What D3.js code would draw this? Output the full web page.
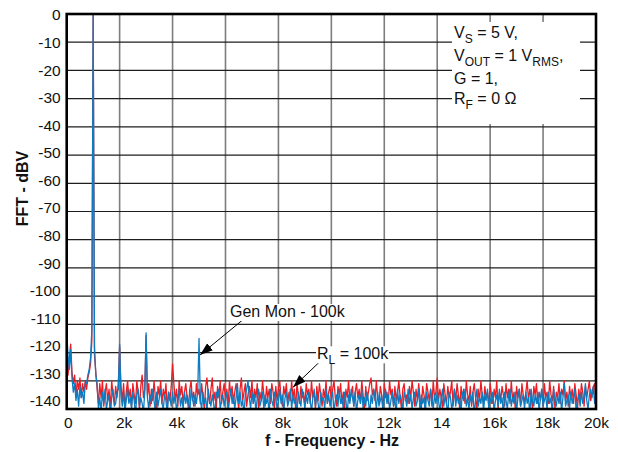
<!DOCTYPE html>
<html><head><meta charset="utf-8">
<script src="https://cdn.jsdelivr.net/npm/d3@7"></script>
<style>
body{margin:0;background:#fff}
svg{display:block;font-family:"Liberation Sans",Arial,Helvetica,sans-serif}
</style>
</head><body>
<svg id="chart" width="618" height="452"></svg>
<script>
// ---- data ----
const xTickValues = [0, 2000, 4000, 6000, 8000, 10000, 12000, 14000, 16000, 18000, 20000];
const xTickLabels = ["0", "2k", "4k", "6k", "8k", "10k", "12k", "14", "16k", "18k", "20k"];
const yTickValues = [0, -10, -20, -30, -40, -50, -60, -70, -80, -90, -100, -110, -120, -130, -140];
const freqStepHz = 50; // spectrum bins: 0 Hz .. 20 kHz
// Gen Mon - 100k (blue), dBV per 50 Hz bin
const genMon = [
-112,-121,-126,-119,-129,-134,-131,-137,-133,-139,-132,-136,-134,-138,-131,-131,-128,-126,-122,-112,
0,-118,-128,-131,-140,-136,-141,-134,-138,-133,-140,-137,-135,-142,-136,-133,-139,-138,-134,-133,
-117,-135,-139,-134,-141,-137,-133,-138,-136,-140,-134,-137,-142,-135,-133,-139,-136,-138,-141,-134,
-113,-136,-140,-135,-138,-133,-137,-141,-134,-139,-136,-133,-138,-140,-135,-137,-142,-134,-136,-139,
-134,-138,-135,-141,-137,-133,-139,-136,-140,-134,-138,-135,-137,-142,-133,-136,-139,-135,-138,-134,
-115,-137,-140,-134,-138,-136,-141,-133,-137,-139,-135,-138,-142,-134,-136,-133,-140,-137,-135,-139,
-136,-134,-141,-137,-133,-138,-135,-140,-136,-131,-138,-134,-139,-137,-142,-135,-133,-130,-136,-140,
-134,-138,-135,-141,-136,-133,-139,-137,-134,-140,-135,-138,-136,-142,-133,-137,-139,-134,-136,-140,
-137,-133,-138,-135,-141,-136,-134,-139,-137,-133,-140,-135,-138,-136,-142,-134,-137,-139,-133,-136,
-140,-135,-138,-134,-137,-141,-136,-133,-139,-135,-138,-142,-134,-137,-136,-140,-133,-138,-135,-139,
-136,-134,-141,-137,-135,-139,-133,-138,-136,-140,-134,-137,-142,-135,-138,-133,-136,-139,-134,-141,
-137,-135,-138,-133,-140,-136,-139,-134,-137,-142,-135,-138,-133,-136,-140,-134,-139,-137,-135,-141,
-136,-133,-138,-135,-140,-137,-134,-139,-136,-142,-133,-138,-135,-137,-141,-134,-136,-139,-133,-138,
-135,-140,-136,-134,-139,-137,-133,-141,-135,-138,-136,-142,-134,-137,-139,-133,-136,-140,-135,-138,
-134,-137,-141,-136,-133,-139,-135,-138,-142,-134,-136,-140,-137,-133,-139,-135,-138,-136,-141,-134,
-137,-133,-139,-136,-140,-135,-138,-134,-142,-137,-133,-139,-136,-138,-134,-141,-135,-137,-133,-140,
-136,-138,-134,-141,-137,-135,-139,-133,-138,-136,-142,-134,-137,-140,-135,-133,-139,-136,-138,-134,
-141,-136,-133,-139,-137,-135,-140,-134,-138,-136,-142,-133,-137,-139,-135,-138,-134,-141,-136,-133,
-139,-137,-135,-140,-134,-138,-136,-142,-133,-137,-139,-135,-138,-134,-141,-136,-131,-139,-137,-135,
-140,-134,-138,-136,-133,-141,-137,-135,-139,-134,-138,-136,-131,-137,-140,-135,-133,-136,-132,-138,
-134];
// R_L = 100k (red), dBV per 50 Hz bin
const rl100k = [
-124,-128,-122,-117,-127,-131,-128,-135,-130,-133,-129,-136,-131,-134,-130,-133,-129,-127,-124,-116,
0,-121,-127,-133,-138,-131,-136,-130,-139,-134,-131,-137,-133,-140,-130,-135,-138,-132,-136,-131,
-118,-132,-137,-131,-140,-134,-130,-136,-133,-139,-131,-135,-138,-130,-134,-140,-132,-128,-136,-133,
-114,-135,-131,-139,-133,-137,-130,-136,-141,-132,-135,-130,-138,-133,-136,-131,-140,-134,-137,-132,
-124,-131,-137,-133,-139,-130,-135,-132,-138,-134,-131,-136,-140,-133,-130,-137,-134,-139,-131,-135,
-133,-138,-131,-136,-140,-132,-129,-135,-138,-133,-129,-137,-134,-140,-132,-136,-130,-138,-134,-131,
-137,-133,-139,-130,-135,-132,-138,-134,-131,-136,-140,-133,-129,-137,-134,-131,-139,-135,-132,-136,
-130,-138,-133,-136,-131,-140,-134,-137,-130,-135,-139,-132,-136,-133,-138,-131,-134,-140,-132,-137,
-133,-130,-136,-139,-132,-135,-131,-138,-134,-137,-130,-136,-133,-140,-131,-135,-138,-132,-136,-134,
-139,-131,-135,-133,-138,-130,-136,-134,-140,-132,-137,-131,-135,-139,-133,-136,-130,-138,-134,-132,
-137,-133,-130,-136,-139,-132,-135,-131,-138,-134,-140,-133,-136,-130,-137,-135,-132,-139,-134,-131,
-136,-133,-138,-130,-135,-140,-132,-137,-134,-131,-129,-135,-133,-137,-130,-136,-138,-132,-135,-140,
-131,-136,-134,-138,-130,-135,-133,-139,-132,-137,-134,-130,-136,-140,-133,-131,-137,-135,-138,-132,
-136,-130,-134,-139,-133,-137,-131,-136,-140,-132,-135,-138,-131,-134,-137,-133,-139,-130,-136,-134,
-129,-137,-133,-136,-140,-131,-135,-138,-132,-136,-134,-130,-139,-133,-137,-131,-135,-140,-132,-136,
-133,-138,-130,-135,-137,-132,-139,-134,-131,-136,-140,-133,-137,-130,-135,-138,-132,-136,-134,-139,
-131,-135,-138,-133,-136,-130,-140,-134,-137,-132,-135,-139,-131,-136,-133,-138,-130,-137,-134,-140,
-132,-136,-133,-139,-131,-135,-138,-134,-130,-137,-133,-136,-140,-132,-135,-131,-138,-134,-137,-133,
-139,-131,-136,-134,-138,-130,-135,-137,-132,-140,-134,-136,-131,-138,-133,-135,-130,-137,-134,-139,
-132,-136,-133,-138,-131,-135,-140,-133,-137,-131,-134,-139,-132,-136,-133,-130,-137,-134,-132,-131,
-140];
const annotBox = [["V","S"," = 5 V,"],["V","OUT"," = 1 V","RMS",","],["G = 1,"],["R","F"," = 0 Ω"]];

// ---- chart ----
const svg = d3.select("#chart");
const L = 66.7, R = 596, T = 14, B = 409;
const x = d3.scaleLinear().domain([0, 20000]).range([L, R]);
const y = d3.scaleLinear().domain([-140, 0]).range([B, T]);
const yLab = d3.scaleLinear().domain([-130, 0]).range([377, 15]);

svg.append("rect").attr("width", 618).attr("height", 452).attr("fill", "#fff");

// grid
svg.append("g").selectAll("line").data(xTickValues.slice(1, -1)).join("line")
  .attr("x1", d => x(d)).attr("x2", d => x(d)).attr("y1", T).attr("y2", B)
  .attr("stroke", "#7d7d7d").attr("stroke-width", 1.6);
svg.append("g").selectAll("line").data(yTickValues.slice(1, -1)).join("line")
  .attr("x1", L).attr("x2", R).attr("y1", d => y(d)).attr("y2", d => y(d))
  .attr("stroke", "#1e1e1e").attr("stroke-width", 1.2);

// annotation box (white backdrop over grid)
svg.append("rect").attr("x", 452).attr("y", 22).attr("width", 128).attr("height", 102).attr("fill", "#fff");
const boxBase = [38, 60.5, 84, 103.5];
annotBox.forEach((parts, i) => {
  const t = svg.append("text").attr("x", 454).attr("y", boxBase[i]).attr("font-size", 16).attr("fill", "#111");
  if (parts.length === 1) { t.text(parts[0]); return; }
  t.append("tspan").text(parts[0]);
  t.append("tspan").attr("dy", 5).attr("font-size", 12).text(parts[1]);
  t.append("tspan").attr("dy", -5).text(parts[2]);
  if (parts[3]) {
    t.append("tspan").attr("dy", 5).attr("font-size", 12).text(parts[3]);
    t.append("tspan").attr("dy", -5).text(parts[4] || "");
  }
});

// data lines
svg.append("clipPath").attr("id", "clip").append("rect")
  .attr("x", L).attr("y", T).attr("width", R - L).attr("height", B - T);
const line = d3.line().x((d, i) => x(i * freqStepHz)).y(d => y(d));
const plot = svg.append("g").attr("clip-path", "url(#clip)");
plot.append("path").datum(rl100k).attr("d", line).attr("fill", "none")
  .attr("stroke", "#ec1c24").attr("stroke-width", 1.3).attr("stroke-linejoin", "round");
plot.append("path").datum(genMon).attr("d", line).attr("fill", "none")
  .attr("stroke", "#0b7cc2").attr("stroke-width", 1.3).attr("stroke-linejoin", "round");

// frame
svg.append("rect").attr("x", L).attr("y", T).attr("width", R - L).attr("height", B - T)
  .attr("fill", "none").attr("stroke", "#000").attr("stroke-width", 2.6);

// axes labels
const yAxis = svg.append("g").attr("transform", `translate(${L},0)`)
  .call(d3.axisLeft(d3.scaleLinear().domain([-140, 0]).range([yLab(-140) - 4, 15]))
    .tickValues(yTickValues).tickSize(0).tickPadding(6).tickFormat(d => String(d)));
yAxis.select(".domain").remove();
yAxis.selectAll("text").attr("font-size", 15.5).attr("fill", "#111")
  .attr("font-family", '"Liberation Sans",Arial,sans-serif');

const xDx = [1, 4, 4, 4, 4, 4, 4, 4, 4, 4, 0];
const xAxis = svg.append("g").attr("transform", `translate(0,${B})`)
  .call(d3.axisBottom(x).tickValues(xTickValues).tickSize(0).tickPadding(8)
    .tickFormat((d, i) => xTickLabels[i]));
xAxis.select(".domain").remove();
xAxis.selectAll("text").attr("font-size", 15.5).attr("fill", "#111")
  .attr("font-family", '"Liberation Sans",Arial,sans-serif')
  .attr("dx", (d, i) => xDx[i]);

// titles
svg.append("text").attr("x", 332).attr("y", 446).attr("text-anchor", "middle")
  .attr("font-size", 16).attr("font-weight", "bold").attr("fill", "#111").text("f - Frequency - Hz");
svg.append("text").attr("transform", "translate(28.3,188.5) rotate(-90)").attr("text-anchor", "middle")
  .attr("font-size", 16).attr("font-weight", "bold").attr("fill", "#111").text("FFT - dBV");

// arrows
const defs = svg.append("defs");
defs.append("marker").attr("id", "ah").attr("viewBox", "0 -5 13 10").attr("refX", 13).attr("refY", 0)
  .attr("markerWidth", 13).attr("markerHeight", 10).attr("markerUnits", "userSpaceOnUse")
  .attr("orient", "auto").append("path").attr("d", "M0,-4.5L13,0L0,4.5Z").attr("fill", "#000");

function label(tx, ty, parts, bgW) {
  svg.append("rect").attr("x", tx - 1).attr("y", ty - 13).attr("width", bgW).attr("height", 17).attr("fill", "#fff");
  const t = svg.append("text").attr("x", tx).attr("y", ty).attr("font-size", 16).attr("fill", "#111");
  t.append("tspan").text(parts[0]);
  if (parts.length > 1) {
    t.append("tspan").attr("dy", 5).attr("font-size", 12).text(parts[1]);
    t.append("tspan").attr("dy", -5).text(parts[2]);
  }
}
svg.append("line").attr("x1", 242).attr("y1", 320.5).attr("x2", 200).attr("y2", 355)
  .attr("stroke", "#000").attr("stroke-width", 1).attr("marker-end", "url(#ah)");
label(230, 317, ["Gen Mon - 100k"], 117);
svg.append("line").attr("x1", 320).attr("y1", 361.5).attr("x2", 293).attr("y2", 387.3)
  .attr("stroke", "#000").attr("stroke-width", 1).attr("marker-end", "url(#ah)");
label(317, 359.3, ["R", "L", " = 100k"], 73);
</script>
</body></html>
